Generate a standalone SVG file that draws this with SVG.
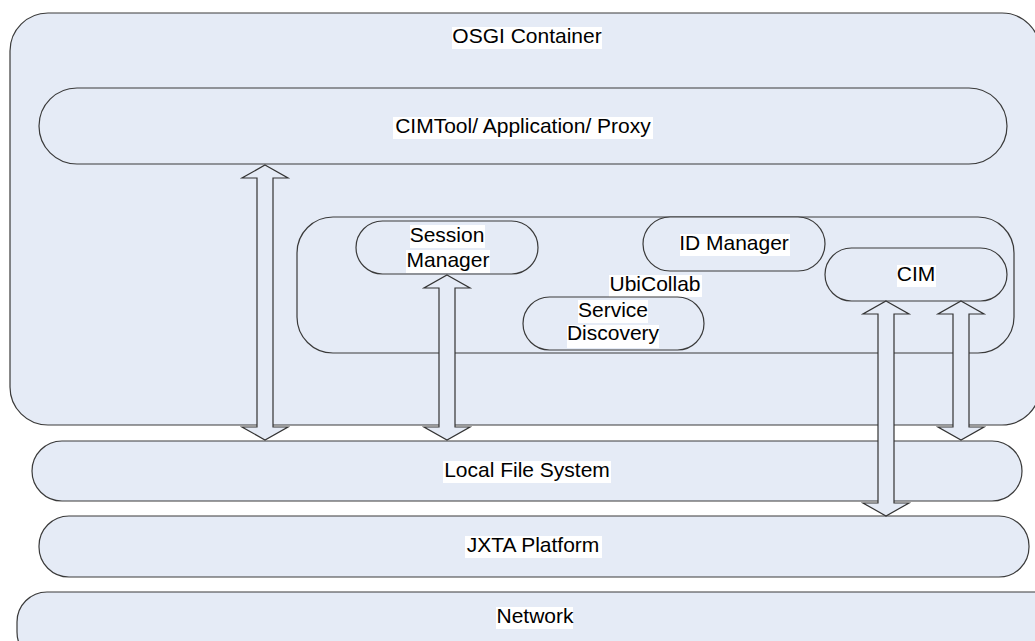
<svg xmlns="http://www.w3.org/2000/svg" width="1035" height="641" viewBox="0 0 1035 641">
<style>
.box{fill:#e5ebf6;stroke:#3a3a3a;stroke-width:1.2}
.arr{fill:#e5ebf6;stroke:#333;stroke-width:1.2;stroke-linejoin:miter}
.t{font-family:"Liberation Sans",Arial,sans-serif;font-size:21px;fill:#000;text-anchor:middle}
.hl{fill:#fff}
</style>
<rect width="1035" height="641" fill="#fff"/>
<g id="osgi">
<rect class="box" x="10" y="13" width="1030" height="412" rx="38"/>
<rect class="hl" x="452" y="27" width="150" height="22"/>
<text class="t" x="527" y="43">OSGI Container</text>
</g>
<g id="cimtool">
<rect class="box" x="39" y="88" width="968" height="76" rx="38"/>
<rect class="hl" x="393" y="117" width="260" height="22"/>
<text class="t" x="523" y="133">CIMTool/ Application/ Proxy</text>
</g>
<g id="ubicollab">
<rect class="box" x="297" y="217" width="717" height="136" rx="36"/>
<rect class="hl" x="609" y="275" width="93" height="22"/>
<text class="t" x="655" y="291">UbiCollab</text>
</g>
<g id="session">
<rect class="box" x="356" y="221" width="182" height="53" rx="26.5"/>
<rect class="hl" x="410" y="225" width="75" height="23"/>
<rect class="hl" x="406" y="250" width="84" height="23"/>
<text class="t" x="447" y="242">Session</text>
<text class="t" x="448" y="267">Manager</text>
</g>
<g id="idmanager">
<rect class="box" x="643" y="217" width="182" height="54" rx="27"/>
<rect class="hl" x="680" y="234" width="110" height="22"/>
<text class="t" x="734" y="250">ID Manager</text>
</g>
<g id="servicediscovery">
<rect class="box" x="523" y="297" width="181" height="53" rx="26.5"/>
<rect class="hl" x="578" y="300" width="70" height="23"/>
<rect class="hl" x="567" y="325" width="92" height="23"/>
<text class="t" x="613" y="317">Service</text>
<text class="t" x="613" y="340">Discovery</text>
</g>
<g id="cim">
<rect class="box" x="825" y="248" width="182" height="53" rx="26.5"/>
<rect class="hl" x="897" y="265" width="39" height="22"/>
<text class="t" x="916" y="281">CIM</text>
</g>
<g id="localfs">
<rect class="box" x="32" y="441" width="990" height="60" rx="30"/>
<rect class="hl" x="443" y="461" width="168" height="22"/>
<text class="t" x="527" y="477">Local File System</text>
</g>
<g id="jxta">
<rect class="box" x="39" y="516" width="990" height="61" rx="30"/>
<rect class="hl" x="465" y="536" width="137" height="22"/>
<text class="t" x="533" y="552">JXTA Platform</text>
</g>
<g id="network">
<rect class="box" x="17" y="592" width="1050" height="70" rx="30"/>
<rect class="hl" x="496" y="607" width="77" height="22"/>
<text class="t" x="535" y="623">Network</text>
</g>
<g id="connectors">
<polygon class="arr" points="265,165 288,178 273,178 273,427 288,427 265,440 242,427 257,427 257,178 242,178"/>
<polygon class="arr" points="447,275 470,288 455,288 455,427 470,427 447,440 424,427 439,427 439,288 424,288"/>
<polygon class="arr" points="886,301 909,314 894,314 894,503 909,503 886,516 863,503 878,503 878,314 863,314"/>
<polygon class="arr" points="961,301 984,314 969,314 969,427 984,427 961,440 938,427 953,427 953,314 938,314"/>
</g>
</svg>
